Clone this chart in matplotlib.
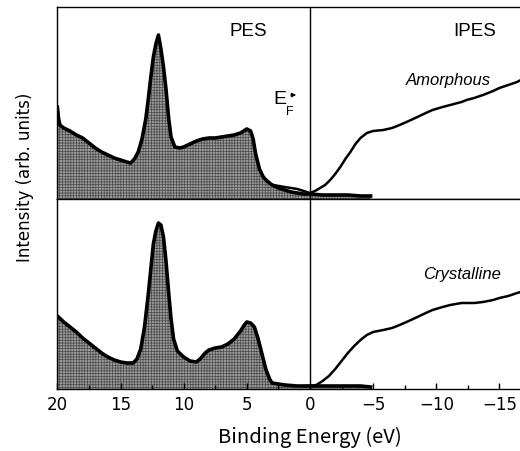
import matplotlib
matplotlib.use("Agg")
import matplotlib.pyplot as plt
from matplotlib.ticker import MultipleLocator

# ---------------- data (binding energy in eV, intensity in arb. units) ----------------
pes_amorph_E = [20.0, 19.9, 19.8, 19.5, 19.0, 18.5, 18.0, 17.5, 17.0, 16.5, 16.0, 15.5, 15.0,
                14.5, 14.2, 13.9, 13.6, 13.3, 13.0, 12.8, 12.6, 12.4, 12.2, 12.0, 11.8, 11.6,
                11.4, 11.2, 11.0, 10.7, 10.3, 10.0, 9.5, 9.0, 8.5, 8.0, 7.5, 7.0, 6.5, 6.0,
                5.5, 5.0, 4.7, 4.5, 4.3, 4.0, 3.7, 3.4, 3.0, 2.5, 2.0, 1.5, 1.0, 0.5, 0.0,
                -1.0, -2.0, -3.0, -4.0, -4.8]
pes_amorph_I = [92, 80, 74, 71, 68, 64, 61, 56, 51, 47, 44, 41, 39,
                37, 36, 40, 47, 60, 80, 100, 122, 142, 155, 164, 150, 132,
                110, 82, 62, 52, 51, 52, 55, 58, 60, 61, 61, 62, 63, 64,
                66, 70, 68, 60, 45, 30, 22, 18, 14, 11, 9, 7, 6, 5, 5,
                4, 4, 4, 3, 3]

pes_cryst_E = [20.0, 19.5, 19.0, 18.5, 18.0, 17.5, 17.0, 16.5, 16.0, 15.5, 15.0, 14.5, 14.0,
               13.7, 13.4, 13.1, 12.8, 12.6, 12.4, 12.2, 12.0, 11.8, 11.6, 11.4, 11.2, 11.0,
               10.8, 10.5, 10.0, 9.5, 9.0, 8.7, 8.3, 8.0, 7.5, 7.0, 6.5, 6.0, 5.5, 5.2, 5.0,
               4.7, 4.4, 4.1, 3.8, 3.5, 3.2, 3.0, 2.5, 2.0, 1.0, 0.0, -1.0, -2.0, -3.0,
               -4.0, -4.8]
pes_cryst_I = [73, 67, 62, 57, 51, 46, 41, 36, 32, 29, 27, 26, 26,
               30, 40, 62, 95, 120, 145, 158, 166, 164, 152, 128, 98, 70,
               50, 38, 32, 28, 27, 30, 36, 39, 41, 42, 45, 50, 58, 64, 67,
               66, 62, 50, 35, 20, 10, 6, 5, 4, 3, 3, 3, 3, 3,
               3, 2]

ipes_amorph_E = [2.9, 2.0, 1.0, 0.5, 0.0, -0.4, -0.8, -1.2, -1.6, -2.0, -2.4, -2.8, -3.2, -3.6,
                 -4.0, -4.5, -5.0, -5.8, -6.5, -7.1, -8.0, -8.5, -9.0, -9.7, -10.5, -11.1,
                 -12.0, -12.4, -13.0, -13.7, -14.5, -15.0, -15.7, -16.4, -16.7]
ipes_amorph_I = [14, 12, 10, 8, 6, 8, 11, 14, 19, 25, 32, 40, 47, 55,
                 61, 66, 68, 69, 71, 74, 79, 82, 85, 89, 92, 94,
                 97, 99, 101, 104, 108, 111, 114, 117, 119]

ipes_cryst_E = [0.3, 0.0, -0.5, -1.0, -1.5, -2.0, -2.5, -3.0, -3.5, -4.0, -4.5, -5.0, -5.8,
                -6.5, -7.1, -8.0, -8.5, -9.0, -9.7, -10.5, -11.1, -12.0, -12.4, -13.0, -13.7,
                -14.5, -15.0, -15.7, -16.4, -16.7]
ipes_cryst_I = [3, 3, 4, 8, 13, 20, 28, 36, 43, 49, 54, 57, 59,
                61, 64, 69, 72, 75, 79, 82, 84, 86, 86, 86, 87,
                89, 91, 93, 96, 97]

x_ticks = [20, 15, 10, 5, 0, -5, -10, -15]
x_ticklabels = ["20", "15", "10", "5", "0", "\u22125", "\u221210", "\u221215"]

# ---------------- figure ----------------
plt.rcParams['font.family'] = ['DejaVu Sans']
plt.rcParams['hatch.linewidth'] = 0.5

W, H = 520, 451
fig = plt.figure(figsize=(W / 100, H / 100), dpi=100)

left = 57 / W
ax_top = fig.add_axes([left, 1 - 199 / H, 1 - left, 192 / H])
ax_bot = fig.add_axes([left, 1 - 389 / H, 1 - left, 190 / H], sharex=ax_top)

panels = [
    (ax_top, pes_amorph_E, pes_amorph_I, ipes_amorph_E, ipes_amorph_I, 192),
    (ax_bot, pes_cryst_E, pes_cryst_I, ipes_cryst_E, ipes_cryst_I, 190),
]

for ax, pe, pi, ie, ii, ymax in panels:
    ax.fill_between(pe, 0, pi, facecolor='#9c9c9c', edgecolor='#4a4a4a',
                    hatch='++++++', linewidth=0, zorder=1)
    ax.plot(pe, pi, color='black', lw=2.6, solid_joinstyle='round', zorder=3)
    ax.plot(ie, ii, color='black', lw=1.8, zorder=3)
    ax.axvline(0, color='black', lw=1.0, zorder=2)
    ax.set_ylim(0, ymax)
    ax.set_yticks([])
    ax.spines['right'].set_visible(False)
    for s in ['left', 'top', 'bottom']:
        ax.spines[s].set_linewidth(1.0)

ax_top.set_xlim(20.03, -16.63)
ax_top.tick_params(axis='x', bottom=False, labelbottom=False)

ax_bot.set_xticks(x_ticks)
ax_bot.set_xticklabels(x_ticklabels)
ax_bot.xaxis.set_minor_locator(MultipleLocator(2.5))
ax_bot.tick_params(axis='x', which='major', direction='in', length=4, width=1.0,
                   labelsize=12, pad=5)
ax_bot.tick_params(axis='x', which='minor', direction='in', length=3, width=1.0)

fig.text(310 / W, 1 - 437 / H, "Binding Energy (eV)", ha='center', va='center',
         fontsize=14.5, family=['Noto Sans CJK JP', 'DejaVu Sans'])
fig.text(25 / W, 1 - 177 / H, "Intensity (arb. units)", rotation=90,
         ha='center', va='center', fontsize=12)

# annotations
fig.text(248 / W, 1 - 31 / H, "PES", ha='center', va='center', fontsize=13.5,
         family='Liberation Sans')
fig.text(475 / W, 1 - 31 / H, "IPES", ha='center', va='center', fontsize=13.5,
         family='Liberation Sans')
fig.text(448 / W, 1 - 81 / H, "Amorphous", ha='center', va='center', fontsize=12,
         style='italic', family='Liberation Sans')
fig.text(462 / W, 1 - 274 / H, "Crystalline", ha='center', va='center', fontsize=12,
         style='italic', family='Liberation Sans')
fig.text(280 / W, 1 - 100 / H, "E", ha='center', va='center', fontsize=14,
         family='Liberation Sans')
fig.text(290 / W, 1 - 112 / H, "F", ha='center', va='center', fontsize=9,
         family='Liberation Sans')
fig.patches.append(matplotlib.patches.FancyArrowPatch(
    (288 / W, 1 - 95 / H), (299 / W, 1 - 95 / H), transform=fig.transFigure,
    arrowstyle='-|>', mutation_scale=6, lw=0.9, color='black'))

fig.savefig("out.png", dpi=100)
